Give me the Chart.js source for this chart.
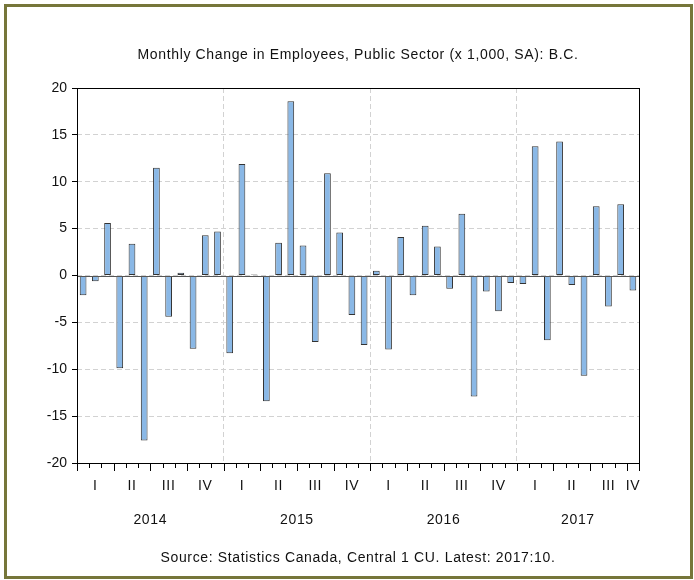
<!DOCTYPE html>
<html>
<head>
<meta charset="utf-8">
<script src="https://cdn.jsdelivr.net/npm/chart.js@4.4.1/dist/chart.umd.min.js"></script>
<style>
  html, body { margin: 0; padding: 0; background: #fff; }
  #wrap { width: 694px; height: 580px; position: relative; }
</style>
</head>
<body>
<div id="wrap"><canvas id="chart" width="694" height="580"></canvas></div>
<script>
const TITLE = 'Monthly Change in Employees, Public Sector (x 1,000, SA): B.C.';
const SOURCE = 'Source: Statistics Canada, Central 1 CU. Latest: 2017:10.';

const years = ['2014', '2015', '2016', '2017'];
const quarterLabels = ['I', 'II', 'III', 'IV'];
const months = [
  '2014-01', '2014-02', '2014-03', '2014-04', '2014-05', '2014-06', '2014-07', '2014-08', '2014-09', '2014-10', '2014-11', '2014-12',
  '2015-01', '2015-02', '2015-03', '2015-04', '2015-05', '2015-06', '2015-07', '2015-08', '2015-09', '2015-10', '2015-11', '2015-12',
  '2016-01', '2016-02', '2016-03', '2016-04', '2016-05', '2016-06', '2016-07', '2016-08', '2016-09', '2016-10', '2016-11', '2016-12',
  '2017-01', '2017-02', '2017-03', '2017-04', '2017-05', '2017-06', '2017-07', '2017-08', '2017-09', '2017-10'
];
const change = [
  -2.1, -0.6, 5.6, -9.9, 3.4, -17.6, 11.5, -4.4, 0.3, -7.8, 4.3, 4.7,
  -8.3, 11.9, 0.1, -13.4, 3.5, 18.6, 3.2, -7.1, 10.9, 4.6, -4.2, -7.4,
  0.5, -7.9, 4.1, -2.1, 5.3, 3.1, -1.4, 6.6, -12.9, -1.7, -3.8, -0.8,
  -0.9, 13.8, -6.9, 14.3, -1.0, -10.7, 7.4, -3.3, 7.6, -1.6
];
const yTicks = [-20, -15, -10, -5, 0, 5, 10, 15, 20];

const FONT = '"Liberation Sans", Arial, sans-serif';

// axis ticks, quarter/year labels, frame and texts
const decor = {
  id: 'decor',
  afterDraw(chart) {
    const ctx = chart.ctx;
    const area = chart.chartArea;
    const x = chart.scales.x;
    const y = chart.scales.y;
    const step = x.getPixelForValue(1) - x.getPixelForValue(0);
    const edge = i => x.getPixelForValue(i) - step / 2;

    ctx.save();
    // zero line
    const y0 = Math.round(y.getPixelForValue(0)) + 0.5;
    ctx.strokeStyle = '#555';
    ctx.lineWidth = 1;
    ctx.beginPath();
    ctx.moveTo(area.left, y0);
    ctx.lineTo(area.right, y0);
    ctx.stroke();

    // frame
    ctx.strokeStyle = '#000';
    ctx.strokeRect(Math.round(area.left) + 0.5, Math.round(area.top) + 0.5,
      Math.round(area.right - area.left), Math.round(area.bottom - area.top));

    // month ticks, longer at quarters
    ctx.beginPath();
    for (let i = 0; i <= months.length; i++) {
      const px = Math.round(i === months.length ? area.right : edge(i)) + 0.5;
      const len = i % 3 === 0 || i === months.length ? 8 : 5;
      ctx.moveTo(px, area.bottom);
      ctx.lineTo(px, area.bottom + len);
    }
    ctx.stroke();

    ctx.fillStyle = '#111';
    ctx.textAlign = 'center';
    ctx.textBaseline = 'middle';
    ctx.font = '14px ' + FONT;
    ctx.letterSpacing = '0.65px';
    const nq = Math.ceil(months.length / 3);
    for (let q = 0; q < nq; q++) {
      const a = q * 3, b = Math.min(q * 3 + 2, months.length - 1);
      const cx = (x.getPixelForValue(a) + x.getPixelForValue(b)) / 2;
      ctx.fillText(quarterLabels[q % 4], cx, area.bottom + 23);
    }
    years.forEach((yr, k) => {
      const a = k * 12, b = Math.min(k * 12 + 11, months.length - 1);
      const cx = (x.getPixelForValue(a) + x.getPixelForValue(b)) / 2;
      ctx.fillText(yr, cx, area.bottom + 57);
    });

    ctx.fillText(TITLE, (area.left + area.right) / 2, 55);
    ctx.fillText(SOURCE, (area.left + area.right) / 2, 558);
    ctx.letterSpacing = '0px';

    // outer olive border
    ctx.strokeStyle = '#76763a';
    ctx.lineWidth = 3;
    ctx.strokeRect(5.5, 5.5, 686, 572);
    ctx.restore();
  }
};

new Chart(document.getElementById('chart'), {
  type: 'bar',
  data: {
    labels: months,
    datasets: [{
      data: change,
      backgroundColor: '#8ab8e6',
      borderColor: '#333',
      borderWidth: 1,
      borderSkipped: false,
      categoryPercentage: 1,
      barPercentage: 0.55
    }]
  },
  options: {
    responsive: false,
    animation: false,
    layout: { padding: { left: 0, right: 55, top: 88, bottom: 117 } },
    plugins: { legend: { display: false }, tooltip: { enabled: false } },
    scales: {
      x: {
        offset: true,
        grid: {
          offset: true,
          drawTicks: false,
          color: c => (c.index > 0 && c.index % 12 === 0) ? '#d2d2d2' : 'rgba(0,0,0,0)'
        },
        border: { display: false, dash: [5, 3] },
        ticks: { display: false }
      },
      y: {
        min: -20,
        max: 20,
        afterBuildTicks: s => { s.ticks = yTicks.map(v => ({ value: v })); },
        afterFit: s => { s.width = 77; },
        grid: { color: '#d2d2d2', tickColor: '#000', tickLength: 5 },
        border: { display: false, dash: [5, 3] },
        ticks: { color: '#111', font: { size: 14, family: FONT }, padding: 5 }
      }
    }
  },
  plugins: [decor]
});
</script>
</body>
</html>
